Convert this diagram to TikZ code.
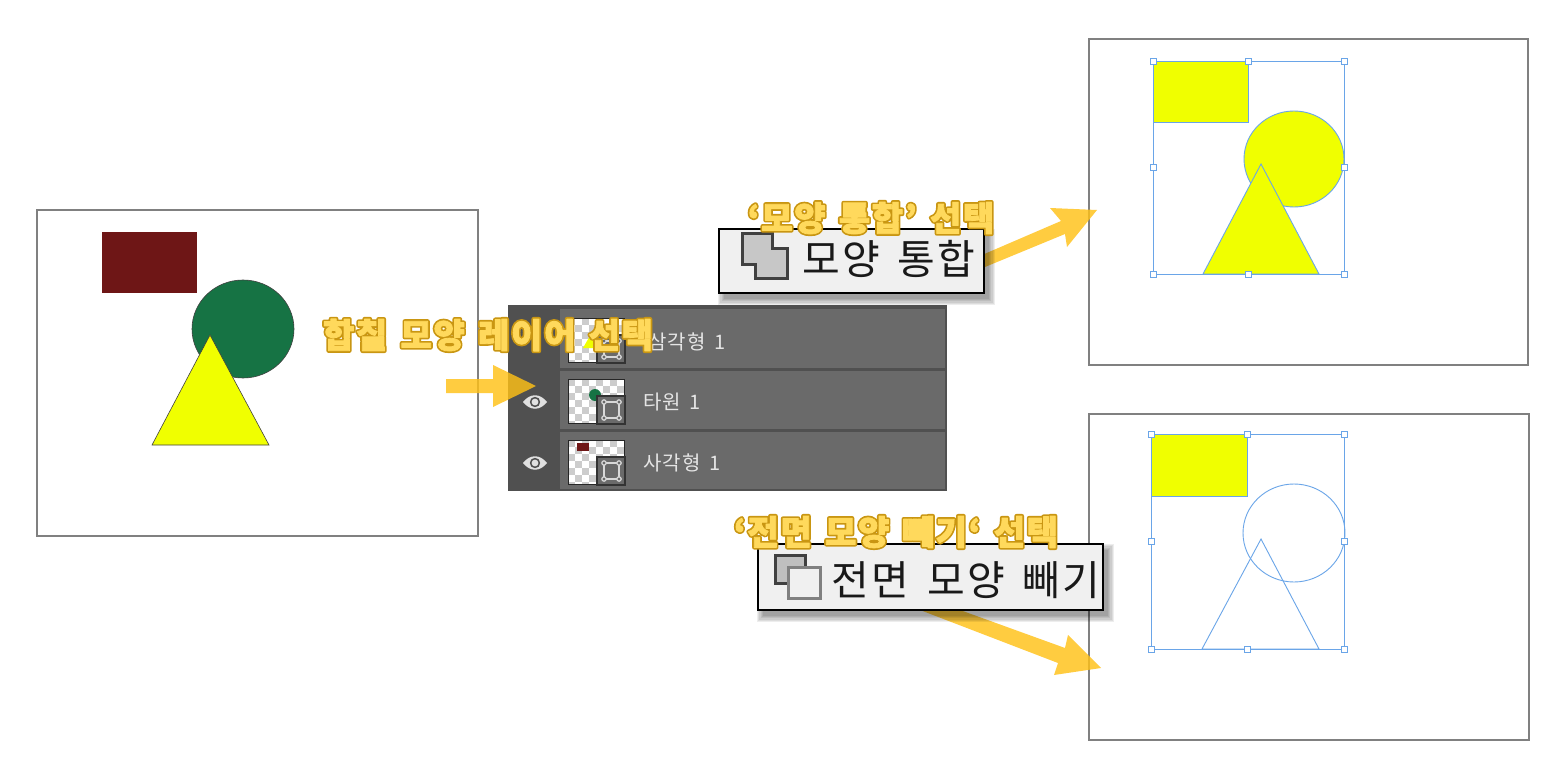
\documentclass[tikz,border=0pt]{standalone}
\usepackage{fontspec}
\setmainfont{Noto Sans CJK KR}[LetterSpace=5,WordSpace=1.6]
\newfontfamily\headfont{Noto Sans CJK KR}[LetterSpace=5,WordSpace=1.4]
\newcommand{\outl}[1]{\rlap{\special{pdf:code q 2 Tr 4.2 w 1 j 0.79 0.59 0.07 RG 0.79 0.59 0.07 rg}#1\special{pdf:code 0 Tr Q}}\special{pdf:code q 2 Tr 0.8 w 1 j 1 0.85 0.36 RG 1 0.85 0.36 rg}#1\special{pdf:code 0 Tr Q}}
\definecolor{arrowc}{HTML}{FFC116}
\definecolor{yel}{HTML}{F0FF00}
\definecolor{sel}{HTML}{6AA5E8}
\definecolor{rowc}{HTML}{6A6A6A}
\definecolor{colc}{HTML}{505050}
\definecolor{circg}{HTML}{167344}
\definecolor{rectr}{HTML}{6E1616}
\tikzset{
  canvas/.style={draw=black!50,line width=2pt,fill=white},
  selline/.style={draw=sel,line width=.9pt},
  handlebox/.style={draw=sel,fill=white,line width=.8pt,minimum size=6pt,inner sep=0pt,rectangle},
  arrowshape/.style={fill=arrowc,opacity=.82},
  headlabel/.style={font=\headfont\bfseries\fontsize{34}{38}\selectfont,inner sep=0pt},
  layerlabel/.style={font=\fontsize{20}{24}\selectfont,text=black!10,anchor=west,inner sep=0pt},
  tiplabel/.style={font=\fontsize{41}{46}\selectfont,text=black!90,inner sep=0pt},
  tipbox/.style={draw=black,line width=2.4pt,fill=black!6},
  minibox/.style={draw=black!80,line width=2pt,fill=rowc},
  minihandle/.style={draw=black!15,line width=1.2pt},
}
\newcommand{\tipshadow}[4]{\foreach \s in {0,1.2,2.4,3.6,4.8,6}{\fill[black,opacity=.07] (#1+5-\s,#2+6-\s) rectangle (#3+5+\s,#4+6+\s);}}
\newcommand{\handles}[4]{%
  \path (#1,#2) node[handlebox]{} ({(#1+#3)/2},#2) node[handlebox]{} (#3,#2) node[handlebox]{}
        (#1,{(#2+#4)/2}) node[handlebox]{} (#3,{(#2+#4)/2}) node[handlebox]{}
        (#1,#4) node[handlebox]{} ({(#1+#3)/2},#4) node[handlebox]{} (#3,#4) node[handlebox]{};}
\newcommand{\thumb}[1]{%
  \begin{scope}
    \clip (568,#1) rectangle (624,#1+44);
    \fill[white] (568,#1) rectangle (624,#1+44);
    \foreach \i in {0,...,8}{\foreach \j in {0,...,6}{%
      \pgfmathtruncatemacro{\k}{mod(\i+\j,2)}%
      \ifnum\k=0\relax\fill[black!20] (568+7*\i,#1+7*\j) rectangle ++(7,7);\fi}}
  \end{scope}
  \draw[black!85,line width=1pt] (568,#1) rectangle (624,#1+44);}
\newcommand{\mini}[1]{%
  \draw[minibox] (597,#1+17) rectangle (625,#1+45);
  \draw[minihandle] (604,#1+23) rectangle (619,#1+39);
  \foreach \a/\b in {604/23,619/23,604/39,619/39}{\draw[minihandle,fill=rowc] (\a,#1+\b) circle (2.2);}}
\newcommand{\eye}[2]{%
  \fill[black!12] (#1-12,#2) .. controls (#1-5,#2-9) and (#1+5,#2-9) .. (#1+12,#2) .. controls (#1+5,#2+9) and (#1-5,#2+9) .. (#1-12,#2) -- cycle;
  \fill[colc] (#1,#2) circle (5.2);
  \fill[black!12] (#1,#2) circle (3.4);}
\begin{document}
\begin{tikzpicture}[x=1pt,y=-1pt]
\useasboundingbox (0,0) rectangle (1556,765);
\fill[white] (0,0) rectangle (1556,765);

% left canvas
\draw[canvas] (37,210) rectangle (478,536);
\fill[rectr] (102,232) rectangle (197,293);
\draw[fill=circg,draw=black!75,line width=.6pt] (243,329) ellipse (51 and 49);
\draw[fill=yel,draw=black!75,line width=.6pt] (210,335) -- (269,445) -- (152,445) -- cycle;

% top-right canvas
\draw[canvas] (1089,39) rectangle (1528,365);
\draw[selline,fill=yel] (1153,61) rectangle (1248,122);
\draw[selline,fill=yel] (1294,159) ellipse (50 and 48);
\draw[selline,fill=yel] (1261,164) -- (1319,274) -- (1203,274) -- cycle;
\draw[selline] (1153,61) rectangle (1344,274);
\handles{1153}{61}{1344}{274}

% bottom-right canvas
\draw[canvas] (1089,414) rectangle (1529,740);
\draw[selline,fill=yel] (1151,434) rectangle (1247,496);
\draw[selline] (1294,533) ellipse (51 and 49);
\draw[selline] (1261,539) -- (1319,649) -- (1202,649) -- cycle;
\draw[selline] (1151,434) rectangle (1344,649);
\handles{1151}{434}{1344}{649}

% layers panel
\fill[colc] (508,305) rectangle (947,491);
\fill[rowc] (560,309) rectangle (945,368);
\fill[rowc] (560,371) rectangle (945,429);
\fill[rowc] (560,432) rectangle (945,489);
\thumb{318}
\fill[yel] (591,334) -- (599,348) -- (583,348) -- cycle;
\mini{318}
\thumb{379}
\fill[circg] (595,395) circle (6);
\mini{379}
\thumb{440}
\fill[rectr] (577,443) rectangle (589,451);
\mini{440}
\eye{535}{402}
\eye{535}{463}
\node[layerlabel] (l1) at (648,342) {삼각형 1};
\node[layerlabel] (l2) at (643,402) {타원 1};
\node[layerlabel] (l3) at (643,463) {사각형 1};

% arrows
\fill[arrowshape] (446,379) -- (493,379) -- (493,365) -- (536,386) -- (493,407) -- (493,393) -- (446,393) -- cycle;
\fill[arrowshape] (982,255) -- (1061,221) -- (1050,208) -- (1097,210) -- (1067,247) -- (1065,234) -- (985,267) -- cycle;
\fill[arrowshape] (920,610) -- (960,610) -- (1065,648) -- (1068,635) -- (1101,668) -- (1054,675) -- (1058,663) -- cycle;

% tooltips
\tipshadow{719}{229}{984}{293}
\draw[tipbox] (719,229) rectangle (984,293);
\draw[draw=black!75,line width=3pt,fill=black!22] (742,233) -- (772,233) -- (772,248) -- (787,248) -- (787,278) -- (755,278) -- (755,264) -- (742,264) -- cycle;
\node[tiplabel] (t1) at (889,259) {모양 통합};

\tipshadow{758}{544}{1103}{610}
\draw[tipbox] (758,544) rectangle (1103,610);
\draw[draw=black!75,line width=3pt,fill=black!25] (775,555) rectangle (805,583);
\draw[draw=black!50,line width=3pt,fill=black!6] (788,567) rectangle (820,598);
\node[tiplabel] (t2) at (966,580) {전면 모양 빼기};

% headings
\node[headlabel] (h1) at (488,335) {\outl{합칠 모양 레이어 선택}};
\node[headlabel] (h2) at (871,218) {\outl{‘모양 통합’ 선택}};
\node[headlabel] (h3) at (896,532) {\outl{‘전면 모양 빼기‘ 선택}};
\end{tikzpicture}
\end{document}
